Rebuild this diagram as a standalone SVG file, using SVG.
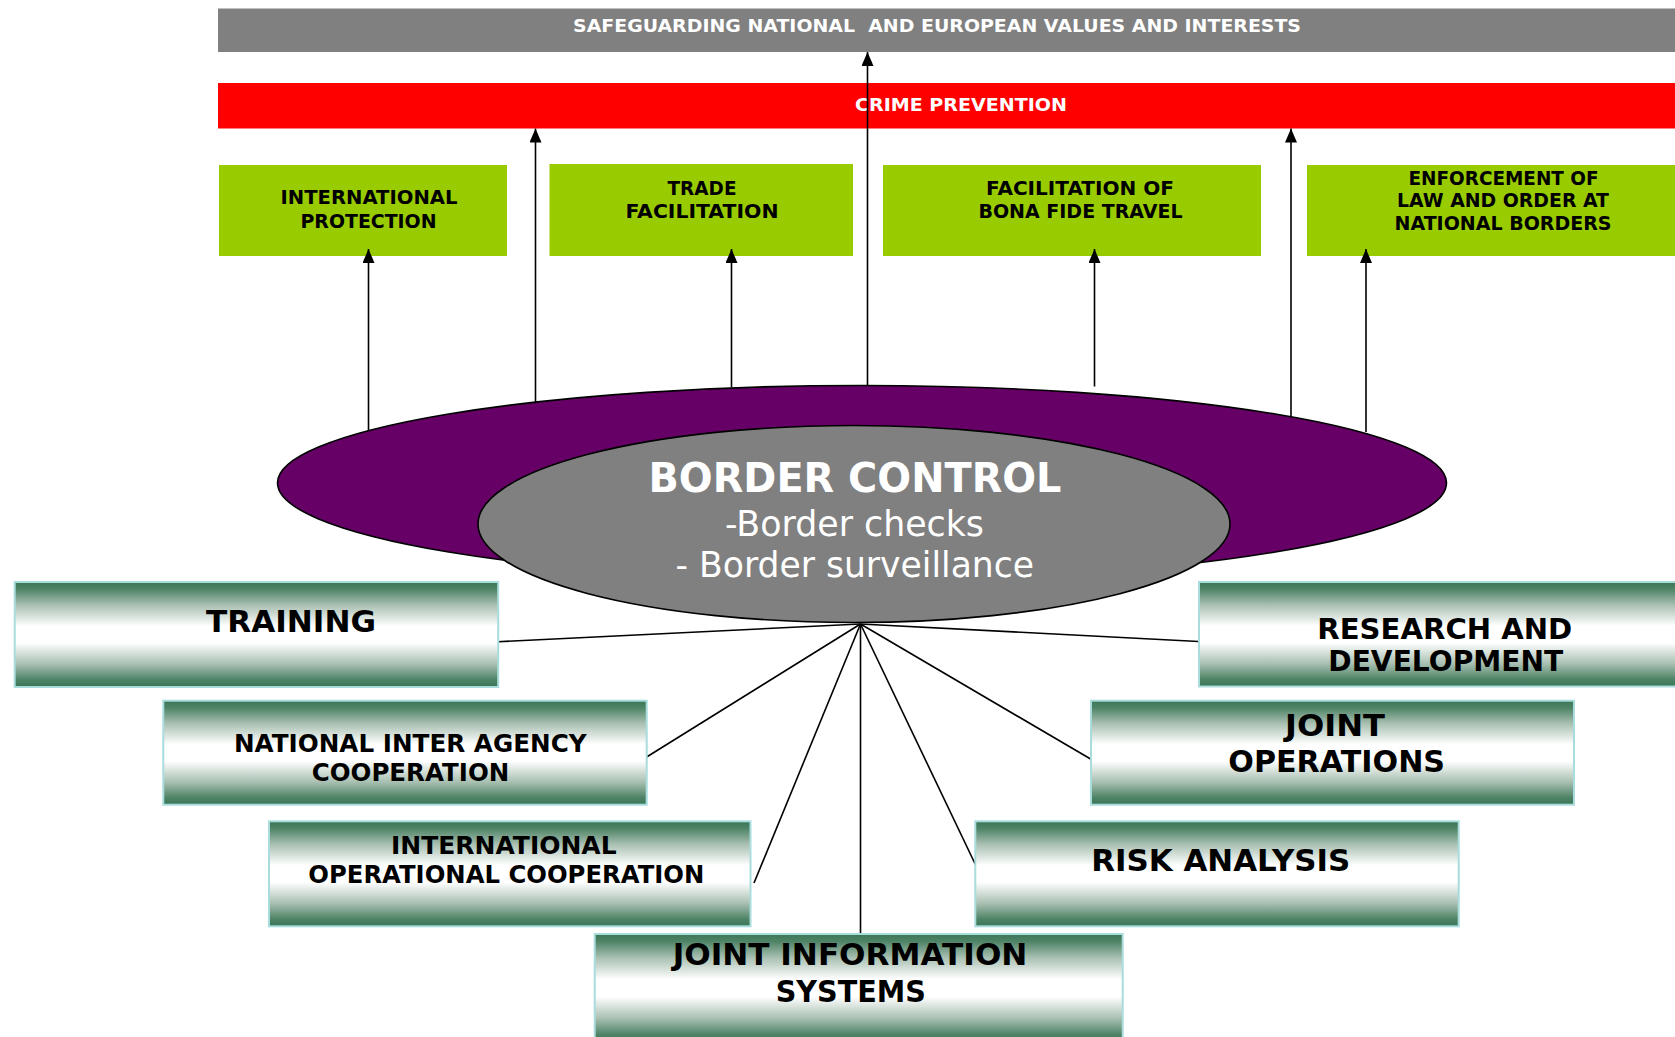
<svg xmlns="http://www.w3.org/2000/svg" width="1675" height="1037" viewBox="0 0 1675 1037">
<style>
  text { font-family: "DejaVu Sans", Verdana, sans-serif; text-anchor: middle; }
  .b { font-weight: bold; }
  .wt { fill: #ffffff; }
  .bk { fill: #000000; }
  .bar18 { font-size: 18px; font-weight: bold; fill: #ffffff; white-space: pre; }
  .g19 { font-size: 19px; font-weight: bold; fill: #000000; }
  .green { fill: #99cc00; }
  .box { fill: url(#boxGrad); stroke: #a9dcdc; stroke-width: 2; }
  .arrow { stroke: #000; stroke-width: 1.6; fill: none; marker-end: url(#ah); }
  .spoke { stroke: #000; stroke-width: 1.6; fill: none; }
</style>
<defs>
  <linearGradient id="boxGrad" x1="0" y1="0" x2="0" y2="1">
    <stop offset="0" stop-color="#3a7556"/>
    <stop offset="0.07" stop-color="#4f8467"/>
    <stop offset="0.22" stop-color="#a9c0b2"/>
    <stop offset="0.42" stop-color="#ffffff"/>
    <stop offset="0.58" stop-color="#ffffff"/>
    <stop offset="0.78" stop-color="#a9c0b2"/>
    <stop offset="0.93" stop-color="#4f8467"/>
    <stop offset="1" stop-color="#3a7556"/>
  </linearGradient>
  <marker id="ah" markerUnits="userSpaceOnUse" viewBox="0 0 14 12" refX="14" refY="6" markerWidth="14" markerHeight="12" orient="auto">
    <path d="M0,0 L14,6 L0,12 z" fill="#000"/>
  </marker>
</defs>

<!-- top bars -->
<g id="values">
  <rect x="218" y="8.5" width="1460" height="43.5" fill="#808080"/>
  <text class="bar18" x="937" y="32" textLength="728" lengthAdjust="spacingAndGlyphs" xml:space="preserve">SAFEGUARDING NATIONAL  AND EUROPEAN VALUES AND INTERESTS</text>
</g>
<g id="crime-prevention">
  <rect x="218" y="83" width="1460" height="45.5" fill="#ff0000"/>
  <text class="bar18" x="961" y="111" textLength="212" lengthAdjust="spacingAndGlyphs">CRIME PREVENTION</text>
</g>

<!-- green goals -->
<g id="international-protection">
  <rect class="green" x="219" y="165" width="288" height="91"/>
  <text class="g19" x="369" y="204" textLength="177" lengthAdjust="spacingAndGlyphs">INTERNATIONAL</text>
  <text class="g19" x="368.5" y="227.5" textLength="136" lengthAdjust="spacingAndGlyphs">PROTECTION</text>
</g>
<g id="trade-facilitation">
  <rect class="green" x="549.5" y="164" width="303.5" height="92"/>
  <text class="g19" x="702" y="195" textLength="69" lengthAdjust="spacingAndGlyphs">TRADE</text>
  <text class="g19" x="702" y="217.7" textLength="153" lengthAdjust="spacingAndGlyphs">FACILITATION</text>
</g>
<g id="bona-fide-travel">
  <rect class="green" x="883" y="165" width="378" height="91"/>
  <text class="g19" x="1080" y="195" textLength="188" lengthAdjust="spacingAndGlyphs">FACILITATION OF</text>
  <text class="g19" x="1080.5" y="218" textLength="204" lengthAdjust="spacingAndGlyphs">BONA FIDE TRAVEL</text>
</g>
<g id="law-and-order">
  <rect class="green" x="1307" y="165" width="370" height="91"/>
  <text class="g19" x="1503.5" y="185" textLength="190" lengthAdjust="spacingAndGlyphs">ENFORCEMENT OF</text>
  <text class="g19" x="1503" y="207.3" textLength="212" lengthAdjust="spacingAndGlyphs">LAW AND ORDER AT</text>
  <text class="g19" x="1503" y="230" textLength="217" lengthAdjust="spacingAndGlyphs">NATIONAL BORDERS</text>
</g>

<!-- border control -->
<g id="border-control">
  <ellipse cx="862" cy="483" rx="584.5" ry="97.5" fill="#660066" stroke="#000" stroke-width="1.6"/>
  <ellipse cx="854" cy="524" rx="376" ry="98.5" fill="#808080" stroke="#000" stroke-width="1.6"/>
  <text class="b wt" x="855" y="491.7" font-size="40" textLength="413" lengthAdjust="spacingAndGlyphs">BORDER CONTROL</text>
  <text class="wt" x="854.5" y="535.7" font-size="35" textLength="259" lengthAdjust="spacingAndGlyphs">-Border checks</text>
  <text class="wt" x="854.8" y="576.7" font-size="35" textLength="358.5" lengthAdjust="spacingAndGlyphs">- Border surveillance</text>
</g>

<!-- connectors -->
<g id="connectors">
  <line class="arrow" x1="368.5" y1="431" x2="368.5" y2="249"/>
  <line class="arrow" x1="535.5" y1="402" x2="535.5" y2="128.5"/>
  <line class="arrow" x1="731.5" y1="387" x2="731.5" y2="249"/>
  <line class="arrow" x1="867.5" y1="385.5" x2="867.5" y2="52"/>
  <line class="arrow" x1="1094.5" y1="386.5" x2="1094.5" y2="249"/>
  <line class="arrow" x1="1291" y1="416" x2="1291" y2="128.5"/>
  <line class="arrow" x1="1366" y1="432" x2="1366" y2="249"/>

  <line class="spoke" x1="860.5" y1="624" x2="498" y2="641.7"/>
  <line class="spoke" x1="860.5" y1="624" x2="643" y2="759.3"/>
  <line class="spoke" x1="860.5" y1="624" x2="754" y2="883"/>
  <line class="spoke" x1="860.5" y1="624" x2="860.5" y2="934.5"/>
  <line class="spoke" x1="860.5" y1="624" x2="978.5" y2="871"/>
  <line class="spoke" x1="860.5" y1="624" x2="1091" y2="759.3"/>
  <line class="spoke" x1="860.5" y1="624" x2="1198.5" y2="641.5"/>
</g>

<!-- measures -->
<g id="training">
  <rect class="box" x="14.7" y="582" width="483.5" height="105"/>
  <text class="b bk" x="291" y="632.3" font-size="30" textLength="170" lengthAdjust="spacingAndGlyphs">TRAINING</text>
</g>
<g id="national-inter-agency">
  <rect class="box" x="163.3" y="700.7" width="483.4" height="104"/>
  <text class="b bk" x="410.3" y="752.3" font-size="25" textLength="352.7" lengthAdjust="spacingAndGlyphs">NATIONAL INTER AGENCY</text>
  <text class="b bk" x="410.5" y="780.7" font-size="25" textLength="197.6" lengthAdjust="spacingAndGlyphs">COOPERATION</text>
</g>
<g id="international-operational">
  <rect class="box" x="269" y="821.3" width="481.5" height="105"/>
  <text class="b bk" x="503.8" y="854" font-size="24.5" textLength="225.7" lengthAdjust="spacingAndGlyphs">INTERNATIONAL</text>
  <text class="b bk" x="506.3" y="883" font-size="24.5" textLength="396" lengthAdjust="spacingAndGlyphs">OPERATIONAL COOPERATION</text>
</g>
<g id="joint-information-systems">
  <rect class="box" x="594.7" y="934" width="528" height="108"/>
  <text class="b bk" x="850" y="965" font-size="31" textLength="354.7" lengthAdjust="spacingAndGlyphs">JOINT INFORMATION</text>
  <text class="b bk" x="850.8" y="1001.7" font-size="31" textLength="150.3" lengthAdjust="spacingAndGlyphs">SYSTEMS</text>
</g>
<g id="risk-analysis">
  <rect class="box" x="975.3" y="821.3" width="483.4" height="105"/>
  <text class="b bk" x="1220.8" y="871.3" font-size="30" textLength="259" lengthAdjust="spacingAndGlyphs">RISK ANALYSIS</text>
</g>
<g id="joint-operations">
  <rect class="box" x="1091" y="700.7" width="483" height="104"/>
  <text class="b bk" x="1335" y="735.7" font-size="30" textLength="100" lengthAdjust="spacingAndGlyphs">JOINT</text>
  <text class="b bk" x="1336.7" y="772" font-size="30" textLength="216.7" lengthAdjust="spacingAndGlyphs">OPERATIONS</text>
</g>
<g id="research-development">
  <rect class="box" x="1199" y="582" width="480" height="104.5"/>
  <text class="b bk" x="1444.8" y="639" font-size="29" textLength="255" lengthAdjust="spacingAndGlyphs">RESEARCH AND</text>
  <text class="b bk" x="1445.8" y="671" font-size="29" textLength="235" lengthAdjust="spacingAndGlyphs">DEVELOPMENT</text>
</g>
</svg>
